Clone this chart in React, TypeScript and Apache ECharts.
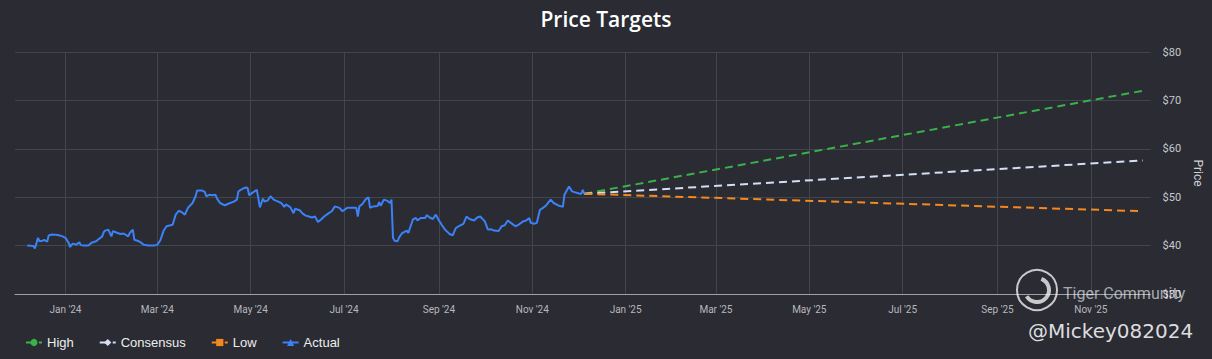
import React, { useEffect, useRef } from "react";
import * as echarts from "echarts";

const actualDates = [
  "2023-12-07","2023-12-11","2023-12-12","2023-12-14","2023-12-15","2023-12-17","2023-12-18","2023-12-20","2023-12-21","2023-12-23",
  "2023-12-27","2023-12-30","2024-01-01","2024-01-03","2024-01-04","2024-01-05","2024-01-06","2024-01-08","2024-01-10","2024-01-11",
  "2024-01-13","2024-01-16","2024-01-18","2024-01-21","2024-01-23","2024-01-25","2024-01-26","2024-01-27","2024-01-29","2024-01-31",
  "2024-02-01","2024-02-04","2024-02-06","2024-02-08","2024-02-11","2024-02-12","2024-02-14","2024-02-15","2024-02-17","2024-02-19",
  "2024-02-21","2024-02-24","2024-02-28","2024-03-01","2024-03-03","2024-03-05","2024-03-07","2024-03-11","2024-03-13","2024-03-15",
  "2024-03-17","2024-03-19","2024-03-21","2024-03-24","2024-03-26","2024-03-27","2024-03-30","2024-04-01","2024-04-02","2024-04-04",
  "2024-04-06","2024-04-08","2024-04-09","2024-04-11","2024-04-14","2024-04-16","2024-04-20","2024-04-22","2024-04-23","2024-04-26",
  "2024-04-28","2024-04-29","2024-04-30","2024-05-02","2024-05-04","2024-05-05","2024-05-06","2024-05-07","2024-05-09","2024-05-10",
  "2024-05-12","2024-05-14","2024-05-16","2024-05-19","2024-05-21","2024-05-23","2024-05-24","2024-05-27","2024-05-29","2024-05-30",
  "2024-06-02","2024-06-04","2024-06-06","2024-06-08","2024-06-10","2024-06-12","2024-06-14","2024-06-16","2024-06-18","2024-06-21",
  "2024-06-23","2024-06-25","2024-06-28","2024-06-30","2024-07-03","2024-07-06","2024-07-09","2024-07-10","2024-07-11","2024-07-13",
  "2024-07-15","2024-07-17","2024-07-18","2024-07-20","2024-07-23","2024-07-24","2024-07-25","2024-07-27","2024-07-29","2024-07-31",
  "2024-08-01","2024-08-02","2024-08-03","2024-08-05","2024-08-06","2024-08-08","2024-08-11","2024-08-12","2024-08-15","2024-08-17",
  "2024-08-18","2024-08-20","2024-08-23","2024-08-24","2024-08-26","2024-08-28","2024-08-30","2024-09-01","2024-09-03","2024-09-05",
  "2024-09-08","2024-09-10","2024-09-12","2024-09-14","2024-09-17","2024-09-19","2024-09-21","2024-09-24","2024-09-26","2024-09-28",
  "2024-10-01","2024-10-03","2024-10-05","2024-10-07","2024-10-10","2024-10-12","2024-10-14","2024-10-16","2024-10-18","2024-10-21",
  "2024-10-23","2024-10-26","2024-10-28","2024-10-30","2024-10-31","2024-11-02","2024-11-04","2024-11-06","2024-11-08","2024-11-10",
  "2024-11-13","2024-11-15","2024-11-18","2024-11-21","2024-11-22","2024-11-25","2024-11-27","2024-11-29","2024-12-02","2024-12-03",
  "2024-12-04","2024-12-05",
];

const actualValues = [
  40.0,39.9,39.4,41.6,40.9,41.0,41.2,40.8,42.1,42.3,
  42.2,41.9,41.6,40.6,39.7,40.2,40.4,40.2,40.7,40.1,
  40.0,40.0,40.6,40.9,41.4,41.9,42.8,43.1,43.3,41.9,
  43.0,42.6,42.4,42.5,41.9,42.6,43.3,41.2,41.0,40.7,
  40.2,40.0,40.0,40.2,41.1,43.0,44.0,44.3,46.4,47.2,
  46.9,46.4,47.8,48.8,50.2,51.4,51.4,51.1,50.2,50.5,
  50.4,50.5,49.7,48.8,48.3,48.6,49.1,49.5,51.2,51.8,
  52.0,51.9,50.4,50.9,51.3,51.5,49.8,47.9,49.7,49.1,
  49.3,50.2,49.5,49.1,48.8,48.0,48.5,47.9,46.7,47.6,
  47.3,46.6,46.2,46.0,45.8,46.0,44.9,45.4,46.0,46.7,
  47.1,48.1,47.8,47.1,47.8,47.8,47.8,46.0,48.1,48.6,
  49.5,50.0,47.8,48.1,48.2,49.0,48.2,49.5,49.3,48.8,
  49.5,41.6,41.0,40.9,41.7,42.6,43.1,42.6,45.4,45.7,
  45.2,45.7,45.7,46.3,45.8,45.5,46.4,45.2,44.2,43.3,
  42.4,42.1,43.6,44.0,44.5,46.0,45.5,45.2,45.8,46.0,
  45.0,43.3,43.4,43.1,43.0,44.0,44.2,45.2,44.7,44.0,
  44.3,45.0,45.2,45.7,44.7,44.5,44.7,47.4,47.8,48.3,
  49.5,48.8,48.3,48.0,50.5,52.2,51.2,51.0,50.7,50.7,
  51.5,50.7,
];

const forecastDates = ["2024-12-05", "2025-12-05"];
const highValues = [50.7, 72.0];
const consensusValues = [50.7, 57.6];
const lowValues = [50.7, 47.1];

const xRange = ["2023-11-29", "2025-12-10"];
const xTickDates = [
  "2024-01-01","2024-03-01","2024-05-01","2024-07-01","2024-09-01","2024-11-01",
  "2025-01-01","2025-03-01","2025-05-01","2025-07-01","2025-09-01","2025-11-01",
];
const monthNames = ["Jan","Feb","Mar","Apr","May","Jun","Jul","Aug","Sep","Oct","Nov","Dec"];

const seriesNames = ["High", "Consensus", "Low", "Actual"];
const colors = {
  High: "#3bb14a",
  Consensus: "#d4def5",
  Low: "#f5891f",
  Actual: "#3b82f6",
};

const ts = (d: string) => Date.parse(d + "T00:00:00Z");

export default function App() {
  const ref = useRef<HTMLDivElement>(null);
  useEffect(() => {
    const chart = echarts.init(ref.current!, null, { renderer: "svg" });
    const pair = (ds: string[], vs: number[]) => ds.map((d, i) => [ts(d), vs[i]]);
    const gridColor = "#43454d";
    const tickValues = xTickDates.map(ts);
    chart.setOption({
      animation: false,
      backgroundColor: "#2a2b33",
      title: {
        text: "Price Targets",
        left: "center",
        top: 3,
        textStyle: { color: "#ffffff", fontSize: 21, fontWeight: 600, fontFamily: "Open Sans" },
      },
      grid: { left: 15, right: 59, top: 52, bottom: 65, containLabel: false },
      legend: {
        data: seriesNames,
        left: 20,
        top: 331,
        itemWidth: 16,
        itemHeight: 9,
        itemGap: 25,
        textStyle: { color: "#eeeeee", fontSize: 13, fontFamily: "Liberation Sans" },
      },
      xAxis: {
        type: "value",
        min: ts(xRange[0]),
        max: ts(xRange[1]),
        axisLine: { show: true, onZero: false, lineStyle: { color: "#a0a0a4", width: 1 } },
        axisTick: { show: false, customValues: tickValues },
        axisLabel: {
          customValues: tickValues,
          color: "#b8b8bc",
          fontSize: 10,
          fontFamily: "Roboto",
          margin: 10,
          formatter: (v: number) => {
            const d = new Date(v);
            return `${monthNames[d.getUTCMonth()]} '${String(d.getUTCFullYear()).slice(2)}`;
          },
        },
        splitLine: { show: true, lineStyle: { color: gridColor, width: 1 } },
      },
      yAxis: {
        type: "value",
        position: "right",
        min: 30,
        max: 80,
        interval: 10,
        name: "Price",
        nameLocation: "middle",
        nameRotate: -90,
        nameGap: 40,
        nameTextStyle: { color: "#d0d0d4", fontSize: 12, fontFamily: "Roboto" },
        axisLine: { show: false },
        axisTick: { show: false },
        axisLabel: {
          color: "#c8c8cc",
          fontSize: 11,
          fontFamily: "Roboto",
          margin: 12,
          formatter: (v: number) => `$${v}`,
        },
        splitLine: { show: true, lineStyle: { color: gridColor, width: 1 } },
      },
      series: [
        {
          name: "High",
          type: "line",
          data: pair(forecastDates, highValues),
          symbol: "circle",
          symbolSize: 7,
          showSymbol: false,
          itemStyle: { color: colors.High },
          lineStyle: { color: colors.High, width: 2, type: [8, 5] },
          z: 3,
        },
        {
          name: "Consensus",
          type: "line",
          data: pair(forecastDates, consensusValues),
          symbol: "diamond",
          symbolSize: 8,
          showSymbol: false,
          itemStyle: { color: colors.Consensus },
          lineStyle: { color: colors.Consensus, width: 2, type: [8, 5] },
          z: 3,
        },
        {
          name: "Low",
          type: "line",
          data: pair(forecastDates, lowValues),
          symbol: "rect",
          symbolSize: 8,
          showSymbol: false,
          itemStyle: { color: colors.Low },
          lineStyle: { color: colors.Low, width: 2, type: [8, 5] },
          z: 3,
        },
        {
          name: "Actual",
          type: "line",
          data: pair(actualDates, actualValues),
          symbol: "triangle",
          symbolSize: 8,
          showSymbol: false,
          itemStyle: { color: colors.Actual },
          lineStyle: { color: colors.Actual, width: 2 },
          z: 4,
        },
      ],
      graphic: [
        {
          type: "circle",
          shape: { cx: 1037, cy: 290, r: 20 },
          style: { fill: "none", stroke: "rgba(255,255,255,0.75)", lineWidth: 2 },
          z: 100,
        },
        {
          type: "arc",
          shape: { cx: 1037, cy: 290, r: 12, startAngle: -1.2, endAngle: 2.6 },
          style: { fill: "none", stroke: "rgba(255,255,255,0.75)", lineWidth: 4 },
          z: 100,
        },
        {
          type: "text",
          x: 1063,
          y: 293,
          style: {
            text: "Tiger Community",
            fill: "rgba(255,255,255,0.6)",
            fontSize: 16,
            fontFamily: "Roboto",
            verticalAlign: "middle",
          },
          z: 100,
        },
        {
          type: "text",
          x: 1028,
          y: 331,
          style: {
            text: "@Mickey082024",
            fill: "rgba(255,255,255,0.85)",
            fontSize: 20,
            fontFamily: "DejaVu Sans",
            verticalAlign: "middle",
          },
          z: 100,
        },
      ],
    });
    return () => chart.dispose();
  }, []);
  return <div ref={ref} style={{ position: "absolute", left: 0, top: 0, width: 1212, height: 359 }} />;
}
